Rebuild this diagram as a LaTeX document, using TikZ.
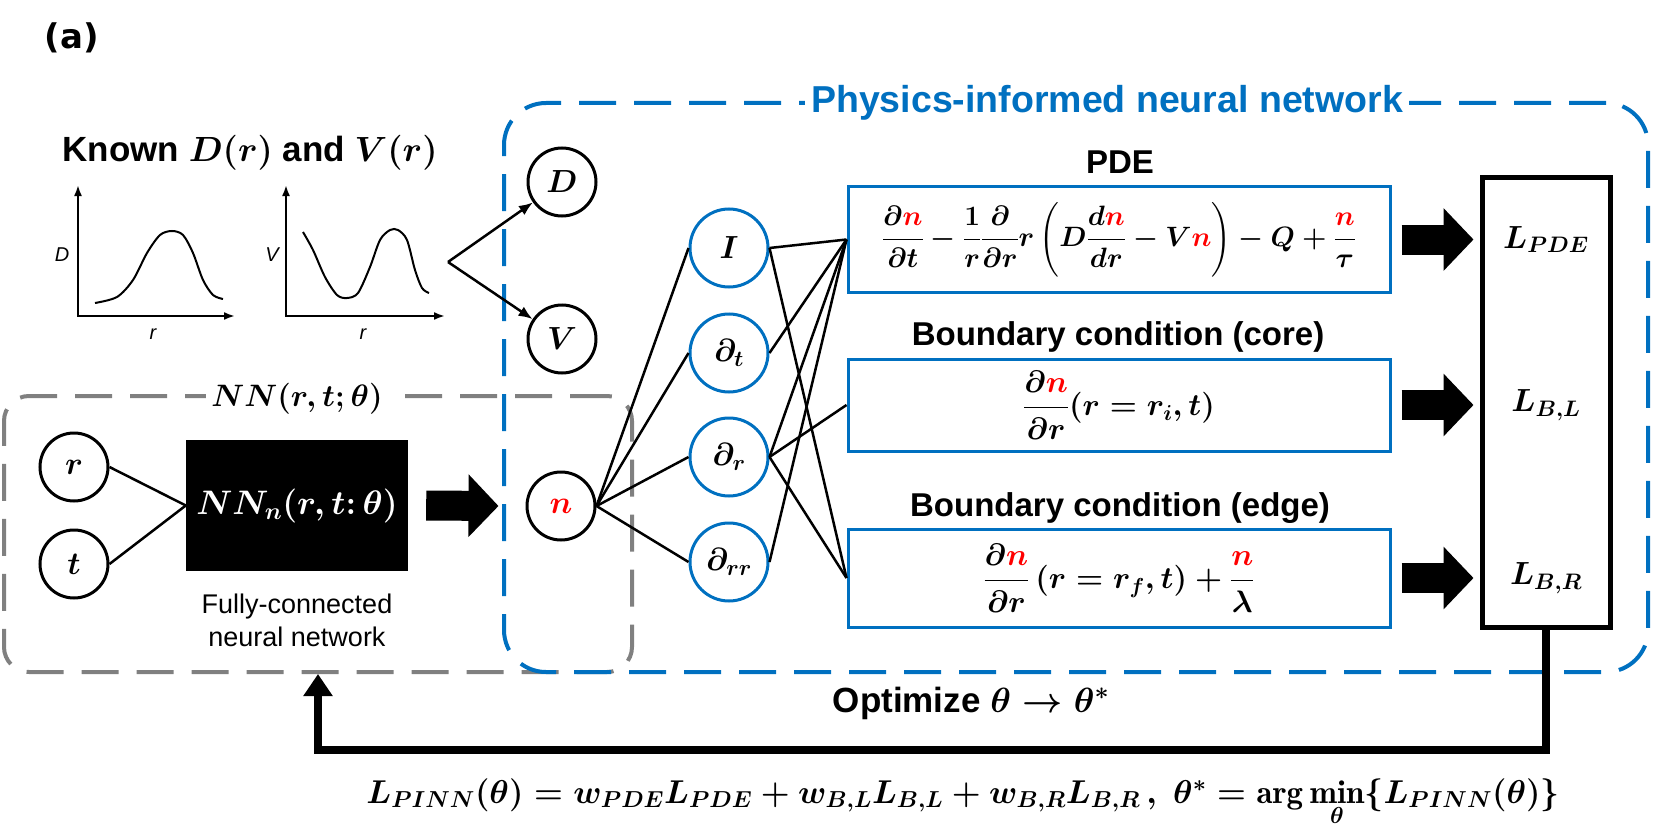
\RequirePackage{fix-cm}
\documentclass[tikz,border=0pt]{standalone}
\usepackage{amsmath}
\usepackage{fontspec}
\setsansfont{Liberation Sans}
\newfontfamily\panelfont{DejaVu Sans}
\usetikzlibrary{arrows.meta}

\definecolor{pinnblue}{RGB}{0,112,192}
\definecolor{nngray}{RGB}{128,128,128}
\newcommand{\rn}{{\color{red}n}}

\begin{document}
\begin{tikzpicture}[x=1pt, y=-1pt,
  neuron/.style={circle, draw, line width=3pt, minimum size=68pt, inner sep=0pt, font=\fontsize{32}{38}\selectfont\boldmath},
  dneuron/.style={neuron, draw=pinnblue, minimum size=78pt},
  eqbox/.style={draw=pinnblue, line width=3pt, minimum width=542pt, inner sep=0pt, font=\fontsize{31}{37}\selectfont\boldmath},
  heading/.style={font=\fontsize{33}{39}\selectfont\sffamily\bfseries},
  lossterm/.style={font=\fontsize{32}{38}\selectfont\boldmath},
  region/.style={rounded corners=#1, line width=4pt, dash pattern=on 37pt off 18pt},
  region/.default=42pt,
  link/.style={line width=2.5pt},
  fatarrow/.style={line width=30pt, -{Triangle[length=30pt,width=61pt]}},
  axes/.style={line width=2pt, {Latex[length=11pt,width=8pt]}-{Latex[length=11pt,width=8pt]}},
  curve/.style={line width=2pt, smooth}
]
\useasboundingbox (0,0) rectangle (1653,837);

\node[font=\fontsize{34}{40}\selectfont\panelfont\bfseries] (panel) at (72,38) {(a)};

\node[region=25pt, draw=nngray, minimum width=628pt, minimum height=276pt] (nnbox) at (318,534) {};
\node[region, draw=pinnblue, minimum width=1144pt, minimum height=569pt] (pinnbox) at (1076,387.5) {};
\node[heading, text=pinnblue, fill=white, inner sep=6pt, font=\fontsize{37.5}{44}\selectfont\sffamily\bfseries] (pinnlabel) at (1107,103) {Physics-informed neural network};
\node[fill=white, inner sep=5pt, font=\fontsize{31}{37}\selectfont\boldmath] (nnlabel) at (297,399) {$NN(r,t;\theta)$};

\node[heading, font=\fontsize{35}{41}\selectfont\sffamily\bfseries] (known) at (250,153) {Known {\boldmath$D(r)$} and {\boldmath$V(r)$}};
\draw[axes] (78,185) -- (78,316) -- (235,316);
\draw[axes] (286,185) -- (286,316) -- (445,316);
\node[font=\fontsize{20}{24}\selectfont\sffamily\itshape] (dlabel) at (62,255) {D};
\node[font=\fontsize{20}{24}\selectfont\sffamily\itshape] (vlabel) at (272,255) {V};
\node[font=\fontsize{20}{24}\selectfont\sffamily\itshape] (rlabel1) at (153,334) {r};
\node[font=\fontsize{20}{24}\selectfont\sffamily\itshape] (rlabel2) at (363,334) {r};
\draw[curve] plot coordinates {(95,303) (117,297) (133,280) (147,253) (160,235) (172,231) (183,235) (193,253) (203,280) (213,295) (223,299)};
\draw[curve] plot coordinates {(303,232) (313,250) (325,277) (337,295) (347,298) (358,293) (370,267) (380,240) (390,230) (398,230) (407,240) (415,270) (422,288) (429,293)};

\node[neuron] (D) at (562,182) {$D$};
\node[neuron] (V) at (562,339) {$V$};
\coordinate (fork) at (448,262);
\draw[link, -{Latex[length=14pt,width=11pt]}] (fork) -- (D);
\draw[link, -{Latex[length=14pt,width=11pt]}] (fork) -- (V);

\node[neuron] (r) at (74,467) {$r$};
\node[neuron] (t) at (74,564) {$t$};
\node[fill=black, text=white, minimum width=222pt, minimum height=131pt, font=\fontsize{34}{40}\selectfont\boldmath] (nnet) at (297,505.5) {$NN_{n}(r,t{:}\,\theta)$};
\node[font=\fontsize{27}{33}\selectfont\sffamily, align=center] (nncap) at (297,620) {Fully-connected\\neural network};
\draw[link] (r.east) -- (nnet.west);
\draw[link] (t.east) -- (nnet.west);

\node[neuron] (n) at (561,506) {$\rn$};
\draw[fatarrow] ([xshift=18pt]nnet.east) -- ([xshift=-27pt]n.west);

\node[dneuron] (I) at (729,248) {$I$};
\node[dneuron] (dt) at (729,353) {$\partial_t$};
\node[dneuron] (dr) at (729,457) {$\partial_r$};
\node[dneuron] (drr) at (729,562) {$\partial_{rr}$};
\draw[link] (n.east) -- (I.west);
\draw[link] (n.east) -- (dt.west);
\draw[link] (n.east) -- (dr.west);
\draw[link] (n.east) -- (drr.west);

\node[eqbox, minimum height=105pt, font=\fontsize{28}{34}\selectfont\boldmath] (pde) at (1119,239.5) {$\dfrac{\partial\rn}{\partial t}-\dfrac{1}{r}\dfrac{\partial}{\partial r}r\left(D\dfrac{d\rn}{dr}-V\rn\right)-Q+\dfrac{\rn}{\tau}$};
\node[eqbox, minimum height=92pt] (core) at (1119,405) {$\dfrac{\partial\rn}{\partial r}(r=r_i,t)$};
\node[eqbox, minimum height=98pt] (edge) at (1119,578) {$\dfrac{\partial\rn}{\partial r}\left(r=r_f,t\right)+\dfrac{\rn}{\lambda}$};
\node[heading] (pdelabel) at (1120,162) {PDE};
\node[heading] (corelabel) at (1118,337) {Boundary condition (core)};
\node[heading] (edgelabel) at (1120,508) {Boundary condition (edge)};

\draw[link] (I.east) -- (pde.west);
\draw[link] (I.east) -- (edge.west);
\draw[link] (dt.east) -- (pde.west);
\draw[link] (dr.east) -- (pde.west);
\draw[link] (dr.east) -- (core.west);
\draw[link] (dr.east) -- (edge.west);
\draw[link] (drr.east) -- (pde.west);

\node[draw, line width=5pt, minimum width=128pt, minimum height=450pt] (loss) at (1546,402.5) {};
\node[lossterm] (lpde) at (loss.center |- pde.west) {$L_{PDE}$};
\node[lossterm] (lbl) at (loss.center |- core.west) {$L_{B,L}$};
\node[lossterm] (lbr) at (loss.center |- edge.west) {$L_{B,R}$};
\draw[fatarrow] ([xshift=10pt]pde.east) -- ([xshift=-6pt]loss.west |- pde.east);
\draw[fatarrow] ([xshift=10pt]core.east) -- ([xshift=-6pt]loss.west |- core.east);
\draw[fatarrow] ([xshift=10pt]edge.east) -- ([xshift=-6pt]loss.west |- edge.east);

\draw[line width=8pt, -{Triangle[length=22pt,width=28pt]}] (loss.south) -- ++(0,120) -| (nnbox.south);
\node[heading, font=\fontsize{35}{41}\selectfont\sffamily\bfseries] (optim) at (971,703) {Optimize {\boldmath$\theta\rightarrow\theta^{*}$}};
\node[anchor=base, font=\fontsize{33}{39}\selectfont\boldmath] (total) at (963,803) {$L_{PINN}(\theta)=w_{PDE}L_{PDE}+w_{B,L}L_{B,L}+w_{B,R}L_{B,R}\,,\ \theta^{*}=\arg\min\limits_{\theta}\{L_{PINN}(\theta)\}$};
\end{tikzpicture}
\end{document}
